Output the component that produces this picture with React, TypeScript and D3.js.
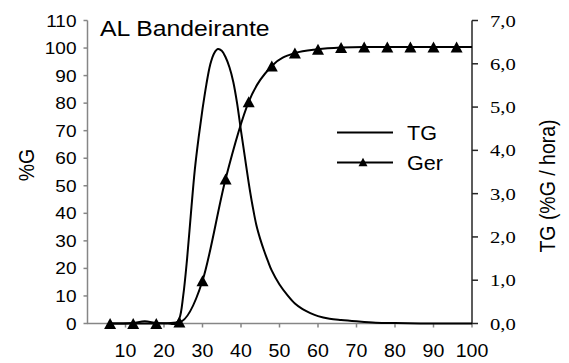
import React from "react";
import * as d3 from "d3";

// ---- data ----
const gerHours = [6, 12, 18, 24, 30, 36, 42, 48, 54, 60, 66, 72, 78, 84, 90, 96];
const gerValues = [0, 0, 0, 0.5, 15.5, 52.5, 80.5, 93.5, 98.2, 99.6, 100.2, 100.4, 100.4, 100.4, 100.4, 100.4];
const gerLineEnd = { h: 100, v: 100.4 };

const tgHours = [6, 9, 12, 15, 18, 21, 23, 24, 25, 26, 27, 28, 29, 30, 31, 32, 33, 34, 35, 36, 37, 38, 39, 40, 41, 42, 43, 44, 45, 46, 47, 48, 50, 52, 54, 56, 58, 60, 63, 66, 70, 75, 80, 90, 100];
const tgValues = [0, 0, 0.01, 0.05, 0.01, 0, 0, 0.12, 0.65, 1.5, 2.55, 3.55, 4.3, 4.95, 5.52, 5.98, 6.24, 6.34, 6.3, 6.15, 5.92, 5.58, 5.08, 4.45, 3.85, 3.25, 2.72, 2.27, 1.95, 1.68, 1.44, 1.22, 0.9, 0.66, 0.46, 0.33, 0.24, 0.17, 0.11, 0.08, 0.05, 0.02, 0.01, 0, 0];

const leftTicks = [0, 10, 20, 30, 40, 50, 60, 70, 80, 90, 100, 110];
const rightTicks = [0, 1, 2, 3, 4, 5, 6, 7];
const xTicks = [10, 20, 30, 40, 50, 60, 70, 80, 90, 100];

const title = "AL Bandeirante";
const leftLabel = "%G";
const rightLabel = "TG (%G / hora)";
const legendTG = "TG";
const legendGer = "Ger";

const SANS = "'Liberation Sans', Arial, sans-serif";
const SERIF = "'Liberation Serif', 'Times New Roman', serif";
const SX = 1.12;

function tri(cx: number, cy: number, w: number, h: number) {
  return `M${cx - w / 2},${cy + h / 2}L${cx},${cy - h / 2}L${cx + w / 2},${cy + h / 2}Z`;
}

export default function App() {
  const W = 569, H = 363;
  const x = d3.scaleLinear().domain([0, 100]).range([87, 472]);
  const yL = d3.scaleLinear().domain([0, 110]).range([323.5, 20.5]);
  const yR = d3.scaleLinear().domain([0, 7]).range([323.5, 20.5]);

  const gerPts: [number, number][] = gerHours.map((h, i) => [h, gerValues[i]]);
  gerPts.push([gerLineEnd.h, gerLineEnd.v]);
  const gerLine = d3.line<[number, number]>()
    .x(d => x(d[0])).y(d => yL(d[1])).curve(d3.curveMonotoneX)(gerPts) || "";
  const tgPts: [number, number][] = tgHours.map((h, i) => [h, tgValues[i]]);
  const tgLine = d3.line<[number, number]>()
    .x(d => x(d[0])).y(d => Math.min(yR(d[1]), yR(0))).curve(d3.curveCatmullRom.alpha(0.5))(tgPts) || "";

  const axisGray = "#868686";
  const axisDark = "#262626";
  const fmtR = (d: number) => d.toFixed(1).replace(".", ",");

  return (
    <svg width={W} height={H} style={{ position: "absolute", left: 0, top: 0, background: "#fff" }}>
      <rect x={0} y={0} width={W} height={H} fill="#fff" />
      {/* left axis */}
      <line x1={87.5} x2={87.5} y1={yL(110)} y2={yL(0)} stroke={axisGray} strokeWidth={1.5} />
      {leftTicks.map(t => (
        <g key={"l" + t}>
          <line x1={83.5} x2={87.5} y1={yL(t)} y2={yL(t)} stroke={axisGray} strokeWidth={1.5} />
          <text transform={`translate(76.5,${yL(t) + 6}) scale(${SX},1)`} textAnchor="end"
            fontFamily={SANS} fontSize={17} fill="#000">{t}</text>
        </g>
      ))}
      {/* bottom axis */}
      <line x1={87} x2={472} y1={yL(0)} y2={yL(0)} stroke={axisGray} strokeWidth={1.5} />
      {xTicks.map(t => (
        <g key={"b" + t}>
          <line x1={x(t)} x2={x(t)} y1={yL(0)} y2={yL(0) + 4} stroke={axisGray} strokeWidth={1.5} />
          <text transform={`translate(${x(t)},357) scale(${SX},1)`} textAnchor="middle"
            fontFamily={SANS} fontSize={17.5} fill="#000">{t}</text>
        </g>
      ))}
      {/* right axis */}
      <line x1={472} x2={472} y1={yR(7)} y2={yR(0)} stroke={axisDark} strokeWidth={1.5} />
      {rightTicks.map(t => (
        <g key={"r" + t}>
          <line x1={472} x2={478} y1={yR(t)} y2={yR(t)} stroke={axisDark} strokeWidth={1.5} />
          <text transform={`translate(490,${yR(t) + 6}) scale(1.18,1)`} textAnchor="start"
            fontFamily={SERIF} fontSize={17.5} fill="#000">{fmtR(t)}</text>
        </g>
      ))}
      {/* series */}
      <path d={tgLine} fill="none" stroke="#000" strokeWidth={2} />
      <path d={gerLine} fill="none" stroke="#000" strokeWidth={2} />
      {gerHours.map((h, i) => (
        <path key={"m" + h} d={tri(x(h), yL(gerValues[i]), 12, 11)} fill="#000" />
      ))}
      {/* title */}
      <text transform={`translate(100,36) scale(1.1,1)`} fontFamily={SANS} fontSize={22.5} fill="#000">{title}</text>
      {/* legend */}
      <line x1={337} x2={393} y1={132.5} y2={132.5} stroke="#000" strokeWidth={2} />
      <text transform={`translate(407,139.5) scale(1.08,1)`} fontFamily={SANS} fontSize={20} fill="#000">{legendTG}</text>
      <line x1={337} x2={393} y1={162.5} y2={162.5} stroke="#000" strokeWidth={2} />
      <path d={tri(363, 162, 9, 8.5)} fill="#000" />
      <text transform={`translate(407,170) scale(1.08,1)`} fontFamily={SANS} fontSize={20} fill="#000">{legendGer}</text>
      {/* axis titles */}
      <text transform={`translate(34,165) rotate(-90) scale(1,1.12)`} textAnchor="middle"
        fontFamily={SANS} fontSize={19.5} fill="#000">{leftLabel}</text>
      <text transform={`translate(555,186) rotate(-90) scale(1,1.1)`} textAnchor="middle"
        fontFamily={SANS} fontSize={19.5} fill="#000">{rightLabel}</text>
    </svg>
  );
}
